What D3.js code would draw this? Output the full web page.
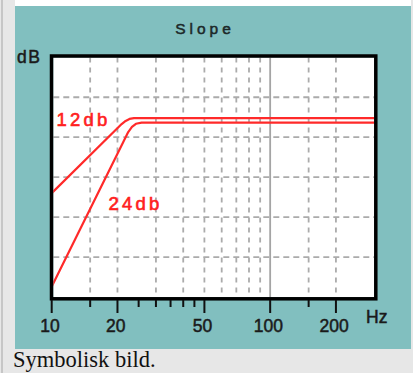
<!DOCTYPE html>
<html><head><meta charset="utf-8">
<script src="https://cdn.jsdelivr.net/npm/d3@7"></script>
<style>body{margin:0;background:#e7e7e7;} svg{display:block;}</style>
</head><body>
<script>
// ---- data ----
const title = "Slope";
const yLabel = "dB";
const xLabel = "Hz";
const caption = "Symbolisk bild.";
const majorTicks = [10, 20, 50, 100, 200];
const minorTicks = [15, 25, 30, 35, 40, 45, 150];
const vGrid = [15, 20, 30, 40, 50, 60, 70, 80, 90, 150, 200];
const solidGrid = [100];
const hGrid = [7, 14, 21, 28, 35];
const freq12 = [10, 20.9, 21.8, 22.7, 23.8, 300];
const db12 = [18.2, 30.3, 30.85, 31.2, 31.35, 31.35];
const freq24 = [10, 22.4, 23.3, 24.3, 25.8, 300];
const db24 = [1.8, 28.9, 29.8, 30.35, 30.55, 30.55];
const seriesLabels = ["12db", "24db"];

const W = 413, H = 373;
const svg = d3.select("body").append("svg").attr("width", W).attr("height", H);

// page chrome
svg.append("rect").attr("x",0).attr("y",0).attr("width",W).attr("height",H).attr("fill","#e7e7e7");
svg.append("rect").attr("x",1).attr("y",0).attr("width",2).attr("height",H).attr("fill","#c6c6c6");
svg.append("rect").attr("x",15).attr("y",0).attr("width",396).attr("height",6).attr("fill","#ffffff");
svg.append("rect").attr("x",15).attr("y",6).attr("width",396).attr("height",343).attr("fill","#81bfbf");

const x = d3.scaleLog().domain([10, 300]).range([51.7, 374.4]);
const y = d3.scaleLinear().domain([0, 42]).range([297, 57.3]);
const L = 53.3, R = 374.2, T = 57.5, B = 297;

svg.append("rect").attr("x",L).attr("y",T).attr("width",R-L).attr("height",B-T).attr("fill","#fff");

svg.append("defs").append("clipPath").attr("id","clip")
  .append("rect").attr("x",L).attr("y",T).attr("width",R-L).attr("height",B-T);

const grid = svg.append("g").attr("stroke","#ababab").attr("stroke-width",1.8).attr("fill","none");
grid.selectAll("line.h").data(hGrid).join("line").attr("class","h")
  .attr("x1",L).attr("x2",R).attr("y1",d=>y(d)).attr("y2",d=>y(d))
  .attr("stroke-dasharray","6,4");
grid.selectAll("line.v").data(vGrid).join("line").attr("class","v")
  .attr("x1",d=>x(d)).attr("x2",d=>x(d)).attr("y1",T).attr("y2",B)
  .attr("stroke-dasharray","5,5");
grid.selectAll("line.s").data(solidGrid).join("line").attr("class","s")
  .attr("x1",d=>x(d)).attr("x2",d=>x(d)).attr("y1",T).attr("y2",B).attr("stroke","#a4a4a4");

const line = d3.line().x(d=>x(d[0])).y(d=>y(d[1])).curve(d3.curveLinear);
const plot = svg.append("g").attr("clip-path","url(#clip)");
[[freq12, db12],[freq24, db24]].forEach(([f, v]) => {
  plot.append("path").datum(f.map((d,i)=>[d, v[i]]))
    .attr("d", line).attr("fill","none").attr("stroke","#ff2a2a").attr("stroke-width",2.2)
    .attr("stroke-linejoin","round");
});

const font = "Liberation Sans, Arial, sans-serif";
// series labels
svg.append("text").attr("x",56.5).attr("y",125.5).text(seriesLabels[0])
  .attr("font-family",font).attr("font-size",18.5)
  .attr("stroke","#ff2020").attr("stroke-width",0.6)
  .attr("letter-spacing",3.2).attr("fill","#ff2020");
svg.append("text").attr("x",108.5).attr("y",210).text(seriesLabels[1])
  .attr("font-family",font).attr("font-size",18.5)
  .attr("stroke","#ff2020").attr("stroke-width",0.6)
  .attr("letter-spacing",3.2).attr("fill","#ff2020");

// frame
svg.append("rect").attr("x",51.5).attr("y",56).attr("width",375.8-51.5).attr("height",298.8-56)
  .attr("fill","none").attr("stroke","#000").attr("stroke-width",3.5);

// ticks
const tk = svg.append("g").attr("stroke","#111").attr("stroke-width",2);
tk.selectAll("line.M").data(majorTicks).join("line").attr("class","M")
  .attr("x1",d=>x(d)).attr("x2",d=>x(d)).attr("y1",300).attr("y2",313);
tk.selectAll("line.m").data(minorTicks).join("line").attr("class","m")
  .attr("x1",d=>x(d)).attr("x2",d=>x(d)).attr("y1",300).attr("y2",307);

const dark = "#1a1a1a";
svg.append("g").selectAll("text").data(majorTicks).join("text")
  .attr("x",d=>x(d)-1.8).attr("y",331.5).attr("text-anchor","middle")
  .attr("font-family",font).attr("font-size",17.5)
  .attr("stroke",dark).attr("stroke-width",0.5)
  .attr("fill",dark).text(d=>d);

svg.append("text").attr("x",366).attr("y",323.3).text(xLabel)
  .attr("font-family",font).attr("font-size",17.5).attr("stroke",dark).attr("stroke-width",0.5).attr("fill",dark);
svg.append("text").attr("x",17).attr("y",63.3).text(yLabel)
  .attr("font-family",font).attr("font-size",17.5).attr("stroke",dark).attr("stroke-width",0.5)
  .attr("letter-spacing",1.5).attr("fill",dark);
svg.append("text").attr("x",205).attr("y",33.8).attr("text-anchor","middle").text(title)
  .attr("font-family",font).attr("font-size",15.5).attr("stroke","#1c2828").attr("stroke-width",0.5)
  .attr("letter-spacing",4).attr("fill","#1c2828");

svg.append("text").attr("x",13).attr("y",367).text(caption)
  .attr("font-family","Liberation Serif, Times New Roman, serif").attr("font-size",22.5).attr("fill","#111");
</script>
</body></html>
